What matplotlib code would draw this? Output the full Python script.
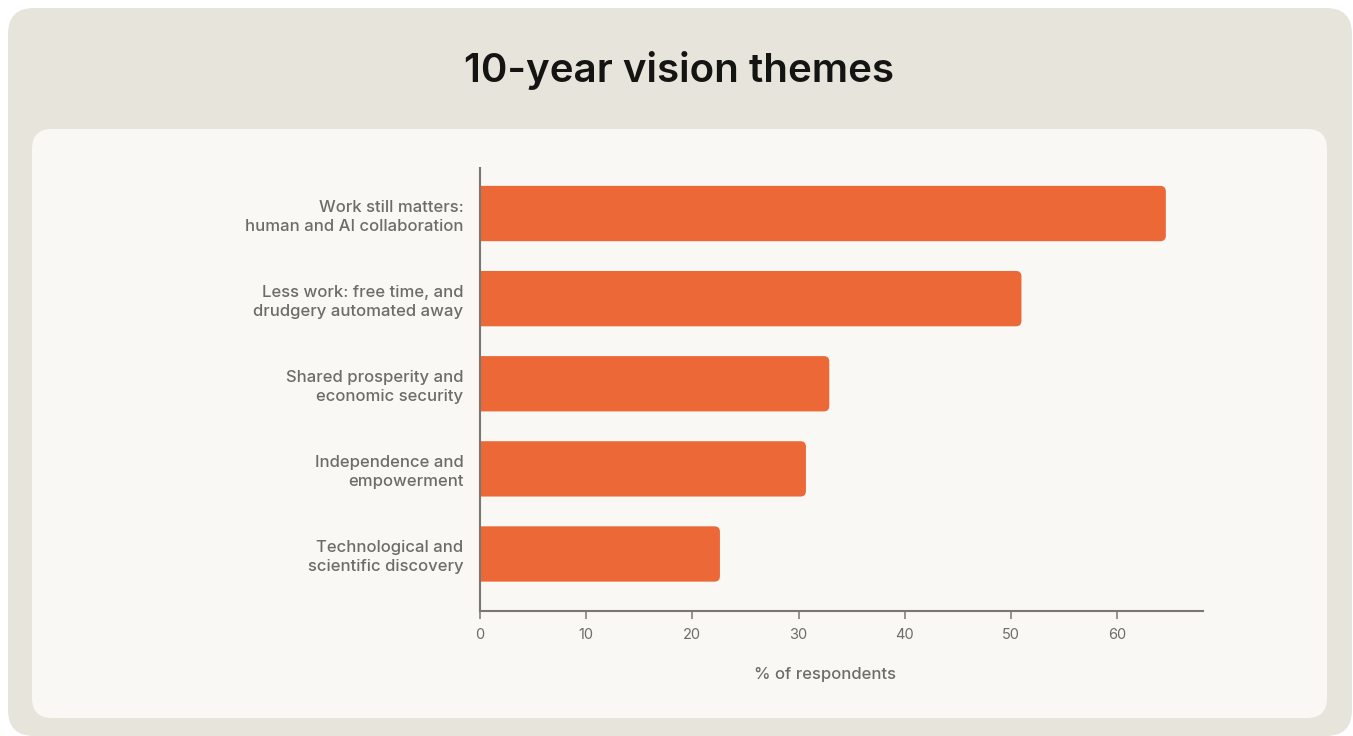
import matplotlib
matplotlib.use("Agg")
import matplotlib.pyplot as plt
from matplotlib.patches import FancyBboxPatch

# survey themes, top to bottom
themes = [
    "Work still matters:\nhuman and AI collaboration",
    "Less work: free time, and\ndrudgery automated away",
    "Shared prosperity and\neconomic security",
    "Independence and\nempowerment",
    "Technological and\nscientific discovery",
]
pct = [64.6, 51.0, 32.9, 30.7, 22.6]
xticks = [0, 10, 20, 30, 40, 50, 60]

BAR = "#EC6836"
GREY = "#6E6C68"
AXIS = "#7A7772"

plt.rcParams["font.family"] = ["Inter", "DejaVu Sans"]

W, H = 1353, 736
fig = plt.figure(figsize=(W / 100, H / 100), dpi=100, facecolor="white")

# background panels, drawn in pixel coordinates
bg = fig.add_axes([0, 0, 1, 1], zorder=0)
bg.set_xlim(0, W)
bg.set_ylim(H, 0)
bg.axis("off")
bg.add_patch(FancyBboxPatch((8, 8), 1344, 728, boxstyle="round,pad=0,rounding_size=26",
                            fc="#E7E4DC", ec="none"))
bg.add_patch(FancyBboxPatch((32, 129), 1295, 589, boxstyle="round,pad=0,rounding_size=20",
                            fc="#F9F8F4", ec="none"))
bg.text(679, 70, "10-year vision themes", ha="center", va="center",
        fontsize=29, fontweight="semibold", color="#141413")

ax = fig.add_axes([480 / W, 1 - 611 / H, (1203 - 480) / W, (611 - 168) / H], zorder=1)
ax.patch.set_alpha(0)

ypos = list(range(len(themes)))
bars = ax.barh(ypos, pct, height=0.65, color=BAR)

# swap the plain bars for ones with rounded ends
xlim = (0, 68.1)
ylim = (4.67, -0.535)
ax.set_xlim(*xlim)
ax.set_ylim(*ylim)
px_x = (1203 - 480) / (xlim[1] - xlim[0])
px_y = (611 - 168) / (ylim[0] - ylim[1])
r = 5.5
for b in bars:
    x0, y0 = b.get_x(), b.get_y()
    w, h = b.get_width(), b.get_height()
    b.set_visible(False)
    ax.add_patch(FancyBboxPatch((x0 - 2, y0), w + 2, h,
                                boxstyle="round,pad=0,rounding_size=%f" % (r / px_x),
                                mutation_aspect=px_x / px_y,
                                fc=BAR, ec="none", clip_on=True))

for s in ["top", "right"]:
    ax.spines[s].set_visible(False)
for s in ["left", "bottom"]:
    ax.spines[s].set_color(AXIS)
    ax.spines[s].set_linewidth(1.5)
    ax.spines[s].set_zorder(5)

ax.set_yticks(ypos)
ax.set_yticklabels(themes, fontsize=12, color=GREY, fontweight="medium", linespacing=1.3)
ax.tick_params(axis="y", length=0, pad=12)

ax.set_xticks(xticks)
ax.set_xticklabels([str(t) for t in xticks], fontsize=10.5, color=GREY)
ax.tick_params(axis="x", length=6, width=1.1, color=AXIS, pad=6)

ax.set_xlabel("% of respondents", fontsize=12, color=GREY, fontweight="medium")
ax.xaxis.set_label_coords((825 - 480) / (1203 - 480), -(674 - 611) / (611 - 168))
ax.xaxis.label.set_va("center")

fig.savefig("out.png", dpi=100, facecolor="white")
